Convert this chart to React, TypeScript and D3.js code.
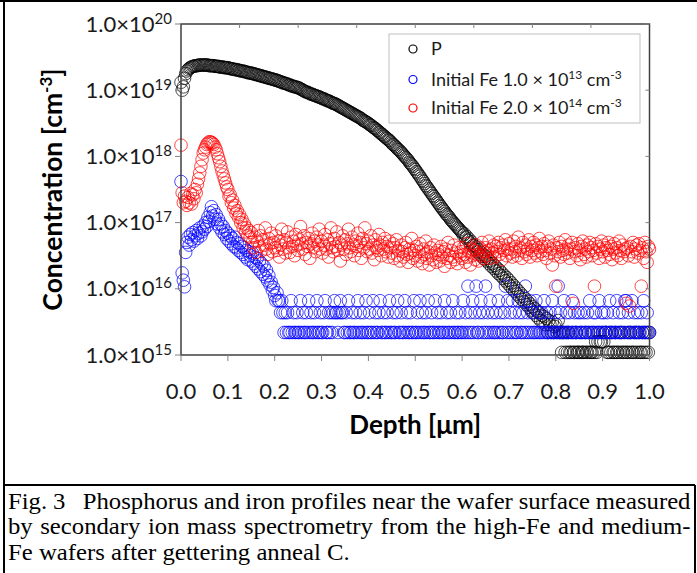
import React, { useEffect, useRef, useState } from "react";
import * as d3 from "d3";

const W = 697;
const H = 573;

// depth sampling step of the SIMS profiles (µm)
const depthStep = 0.0025;

const xTickValues = [0, 0.1, 0.2, 0.3, 0.4, 0.5, 0.6, 0.7, 0.8, 0.9, 1.0];
const xTickLabels = ["0.0", "0.1", "0.2", "0.3", "0.4", "0.5", "0.6", "0.7", "0.8", "0.9", "1.0"];
const yDecades = [15, 16, 17, 18, 19, 20];
const topTickValues = [0.125, 0.25, 0.375, 0.5, 0.625, 0.75, 0.875];

// log10 concentration [cm^-3], phosphorus
const pLog = [
  19.12, 19.00, 19.05, 19.18, 19.25, 19.29, 19.31, 19.33, 19.34, 19.35,
  19.36, 19.36, 19.37, 19.37, 19.37, 19.38, 19.38, 19.38, 19.38, 19.38,
  19.38, 19.38, 19.38, 19.38, 19.37, 19.37, 19.37, 19.37, 19.37, 19.36,
  19.36, 19.36, 19.36, 19.35, 19.35, 19.35, 19.35, 19.34, 19.34, 19.34,
  19.34, 19.33, 19.33, 19.32, 19.32, 19.32, 19.31, 19.31, 19.31, 19.30,
  19.30, 19.29, 19.29, 19.29, 19.28, 19.28, 19.27, 19.27, 19.26, 19.26,
  19.26, 19.25, 19.25, 19.24, 19.24, 19.23, 19.23, 19.22, 19.22, 19.21,
  19.21, 19.20, 19.20, 19.19, 19.19, 19.18, 19.18, 19.17, 19.17, 19.16,
  19.16, 19.15, 19.15, 19.14, 19.13, 19.13, 19.12, 19.11, 19.11, 19.10,
  19.10, 19.09, 19.08, 19.08, 19.07, 19.06, 19.06, 19.05, 19.05, 19.04,
  19.04, 19.03, 19.02, 19.01, 19.00, 18.99, 18.98, 18.97, 18.97, 18.96,
  18.95, 18.94, 18.94, 18.93, 18.92, 18.92, 18.91, 18.90, 18.90, 18.89,
  18.88, 18.87, 18.87, 18.86, 18.85, 18.84, 18.84, 18.83, 18.82, 18.81,
  18.80, 18.80, 18.79, 18.78, 18.77, 18.76, 18.75, 18.74, 18.73, 18.72,
  18.71, 18.70, 18.69, 18.68, 18.67, 18.66, 18.65, 18.64, 18.63, 18.62,
  18.61, 18.60, 18.59, 18.58, 18.57, 18.55, 18.54, 18.53, 18.52, 18.51,
  18.50, 18.48, 18.47, 18.46, 18.44, 18.43, 18.42, 18.40, 18.39, 18.37,
  18.36, 18.34, 18.33, 18.31, 18.30, 18.28, 18.27, 18.25, 18.24, 18.22,
  18.20, 18.18, 18.17, 18.15, 18.13, 18.11, 18.10, 18.08, 18.06, 18.04,
  18.02, 18.00, 17.98, 17.96, 17.94, 17.91, 17.89, 17.87, 17.85, 17.82,
  17.80, 17.77, 17.75, 17.72, 17.70, 17.67, 17.64, 17.62, 17.59, 17.56,
  17.54, 17.51, 17.49, 17.46, 17.44, 17.41, 17.39, 17.36, 17.34, 17.31,
  17.29, 17.26, 17.24, 17.21, 17.19, 17.17, 17.14, 17.12, 17.10, 17.08,
  17.05, 17.03, 17.01, 16.99, 16.97, 16.95, 16.93, 16.91, 16.89, 16.87,
  16.85, 16.81, 16.83, 16.77, 16.79, 16.73, 16.75, 16.69, 16.71, 16.65,
  16.66, 16.60, 16.63, 16.56, 16.59, 16.52, 16.55, 16.49, 16.52, 16.45,
  16.49, 16.42, 16.46, 16.38, 16.42, 16.34, 16.38, 16.31, 16.35, 16.27,
  16.31, 16.23, 16.28, 16.20, 16.24, 16.16, 16.20, 16.12, 16.17, 16.08,
  16.13, 16.04, 16.09, 16.00, 16.05, 15.96, 16.01, 15.92, 15.97, 15.88,
  15.93, 15.84, 15.89, 15.80, 15.85, 15.76, 15.81, 15.72, 15.77, 15.68,
  15.73, 15.64, 15.70, 15.60, 15.66, 15.56, 15.64, 15.52, 15.60, 15.50,
  15.58, 15.46, 15.55, 15.34, 15.52, 15.46, 15.34, 15.50, 15.34, 15.43,
  15.46, 15.34, 15.52, 15.34, 15.34, 15.04, 15.34, 15.34, 15.04, 15.34,
  15.04, 15.34, 15.04, 15.04, 15.34, 15.04, 15.04, 15.34, 15.04, 15.04,
  15.04, 15.34, 15.04, 15.04, 15.04, 15.34, 15.04, 15.04, 15.34, 15.04,
  15.04, 15.04, 15.34, 15.04, 15.20, 15.04, 15.20, 15.34, 15.20, 15.20,
  15.34, 15.20, 15.34, 15.34, 15.04, 15.04, 15.34, 15.04, 15.34, 15.04,
  15.04, 15.34, 15.04, 15.04, 15.34, 15.04, 15.34, 15.04, 15.04, 15.34,
  15.04, 15.04, 15.34, 15.04, 15.34, 15.04, 15.04, 15.34, 15.04, 15.34,
  15.04, 15.34, 15.04, 15.04, 15.34, 15.04, 15.34, 15.04, 15.34, 15.04,
  15.34,
];

// log10 concentration [cm^-3], Fe, initial 1.0e13
const feLowLog = [
  17.62, 16.24, 16.13, 16.03, 16.55, 16.70, 16.78, 16.66, 16.82, 16.74,
  16.85, 16.72, 16.80, 16.88, 16.76, 16.84, 16.92, 16.80, 16.86, 16.95,
  16.90, 17.00, 16.94, 17.08, 17.02, 17.15, 17.24, 17.10, 17.18, 17.05,
  17.12, 16.98, 17.05, 16.92, 16.98, 16.86, 16.94, 16.82, 16.88, 16.76,
  16.84, 16.72, 16.80, 16.68, 16.76, 16.64, 16.78, 16.62, 16.70, 16.58,
  16.68, 16.55, 16.64, 16.52, 16.62, 16.48, 16.58, 16.44, 16.56, 16.50,
  16.42, 16.54, 16.38, 16.48, 16.34, 16.46, 16.30, 16.42, 16.26, 16.38,
  16.22, 16.34, 16.18, 16.28, 16.12, 16.20, 16.06, 16.10, 15.98, 16.02,
  15.90, 15.82, 15.94, 15.82, 15.82, 15.64, 15.82, 15.64, 15.34, 15.64,
  15.34, 15.64, 15.34, 15.34, 15.82, 15.34, 15.64, 15.34, 15.34, 15.64,
  15.34, 15.34, 15.82, 15.34, 15.64, 15.34, 15.34, 15.64, 15.34, 15.82,
  15.34, 15.64, 15.34, 15.34, 15.64, 15.34, 15.82, 15.34, 15.34, 15.64,
  15.34, 15.34, 15.64, 15.82, 15.34, 15.34, 15.64, 15.34, 15.64, 15.34,
  15.64, 15.82, 15.64, 15.64, 15.34, 15.64, 15.82, 15.64, 15.64, 15.34,
  15.34, 15.64, 15.34, 15.82, 15.34, 15.34, 15.64, 15.34, 15.34, 15.64,
  15.34, 15.82, 15.34, 15.64, 15.34, 15.34, 15.64, 15.34, 15.82, 15.34,
  15.34, 15.64, 15.34, 15.34, 15.82, 15.34, 15.64, 15.34, 15.34, 15.64,
  15.82, 15.34, 15.34, 15.64, 15.34, 15.34, 15.64, 15.34, 15.82, 15.34,
  15.34, 15.64, 15.34, 15.34, 15.64, 15.82, 15.34, 15.34, 15.64, 15.34,
  15.34, 15.82, 15.34, 15.64, 15.34, 15.34, 15.64, 15.34, 15.34, 15.82,
  15.34, 15.34, 15.64, 15.34, 15.82, 15.34, 15.64, 15.34, 15.34, 15.64,
  15.34, 15.82, 15.34, 15.34, 15.64, 15.34, 15.34, 15.82, 15.34, 15.64,
  15.34, 15.34, 15.64, 15.34, 15.34, 15.82, 15.34, 15.64, 15.34, 15.34,
  15.64, 15.34, 15.82, 15.34, 15.34, 15.64, 15.34, 15.34, 15.64, 15.34,
  15.34, 15.82, 15.34, 15.64, 15.34, 16.04, 15.34, 15.64, 15.34, 15.82,
  15.34, 15.64, 16.04, 15.34, 15.34, 15.64, 15.82, 15.34, 15.64, 15.34,
  16.04, 15.34, 15.64, 15.34, 15.82, 15.34, 15.64, 15.34, 15.34, 15.64,
  15.34, 15.82, 15.34, 15.64, 15.34, 15.34, 15.64, 16.04, 15.34, 15.82,
  15.34, 15.64, 15.34, 15.82, 15.34, 15.64, 15.34, 15.34, 15.82, 15.64,
  15.34, 15.34, 15.64, 15.34, 16.04, 15.34, 15.64, 15.34, 15.82, 15.34,
  15.64, 15.34, 15.34, 15.82, 15.34, 15.64, 15.34, 15.34, 15.64, 15.34,
  15.82, 15.34, 15.64, 15.34, 15.34, 15.64, 15.34, 15.82, 15.34, 15.34,
  15.64, 15.34, 16.04, 15.34, 15.64, 15.34, 15.34, 15.82, 15.34, 15.64,
  15.34, 15.34, 15.64, 15.34, 15.82, 15.34, 15.64, 15.34, 15.34, 15.64,
  15.34, 15.64, 15.34, 15.34, 15.64, 15.34, 15.34, 15.64, 15.34, 15.82,
  15.34, 15.34, 15.64, 15.34, 15.64, 15.34, 15.34, 15.82, 15.34, 15.64,
  15.34, 15.64, 15.34, 15.34, 15.64, 15.34, 15.82, 15.34, 15.34, 15.64,
  15.34, 15.34, 15.82, 15.34, 15.64, 15.34, 15.34, 15.64, 15.34, 15.82,
  15.82, 15.34, 15.64, 15.34, 15.34, 15.82, 15.34, 15.64, 15.34, 15.34,
  15.64, 15.34, 15.34, 15.64, 15.34, 15.82, 15.34, 15.34, 15.64, 15.34,
  15.34,
];

// log10 concentration [cm^-3], Fe, initial 2.0e14
const feHighLog = [
  18.17, 17.45, 17.30, 17.40, 17.32, 17.26, 17.38, 17.30, 17.44, 17.28,
  17.42, 17.36, 17.50, 17.45, 17.58, 17.66, 17.75, 17.85, 17.95, 18.05,
  18.10, 18.14, 18.18, 18.20, 18.22, 18.22, 18.21, 18.20, 18.18, 18.14,
  18.10, 18.04, 17.98, 17.92, 17.85, 17.78, 17.72, 17.66, 17.60, 17.54,
  17.50, 17.40, 17.42, 17.30, 17.34, 17.22, 17.26, 17.14, 17.18, 17.08,
  17.12, 17.00, 17.05, 16.92, 16.98, 16.86, 16.92, 16.80, 16.88, 16.78,
  16.85, 16.70, 16.62, 16.78, 16.55, 16.72, 16.88, 16.64, 16.80, 16.58,
  16.74, 16.66, 16.92, 16.60, 16.52, 16.76, 16.68, 16.84, 16.56, 16.70,
  16.62, 16.80, 16.58, 16.72, 16.48, 16.66, 16.90, 16.60, 16.74, 16.54,
  16.70, 16.86, 16.62, 16.55, 16.78, 16.64, 16.72, 16.50, 16.82, 16.66,
  16.58, 16.74, 16.94, 16.68, 16.60, 16.80, 16.52, 16.70, 16.64, 16.76,
  16.46, 16.68, 16.84, 16.62, 16.72, 16.56, 16.78, 16.66, 16.90, 16.60,
  16.72, 16.54, 16.66, 16.82, 16.60, 16.74, 16.48, 16.68, 16.92, 16.62,
  16.56, 16.76, 16.64, 16.86, 16.58, 16.70, 16.42, 16.66, 16.80, 16.60,
  16.74, 16.52, 16.68, 16.90, 16.62, 16.56, 16.78, 16.66, 16.50, 16.72,
  16.64, 16.84, 16.58, 16.70, 16.46, 16.76, 16.62, 16.92, 16.68, 16.56,
  16.72, 16.60, 16.80, 16.54, 16.66, 16.44, 16.74, 16.62, 16.58, 16.82,
  16.66, 16.50, 16.70, 16.60, 16.76, 16.56, 16.64, 16.48, 16.72, 16.62,
  16.54, 16.68, 16.46, 16.62, 16.74, 16.50, 16.58, 16.42, 16.66, 16.56,
  16.48, 16.62, 16.70, 16.52, 16.40, 16.60, 16.54, 16.76, 16.46, 16.58,
  16.50, 16.64, 16.42, 16.56, 16.68, 16.48, 16.38, 16.60, 16.52, 16.72,
  16.46, 16.56, 16.36, 16.62, 16.50, 16.44, 16.66, 16.54, 16.40, 16.58,
  16.52, 16.42, 16.64, 16.48, 16.56, 16.34, 16.60, 16.46, 16.70, 16.50,
  16.40, 16.58, 16.48, 16.66, 16.44, 16.54, 16.38, 16.62, 16.50, 16.56,
  16.46, 16.62, 16.52, 16.40, 16.68, 16.48, 16.56, 16.36, 16.60, 16.50,
  16.58, 16.44, 16.66, 16.52, 16.42, 16.62, 16.50, 16.70, 16.46, 16.56,
  16.62, 16.50, 16.58, 16.72, 16.46, 16.60, 16.54, 16.66, 16.48, 16.64,
  16.56, 16.70, 16.52, 16.62, 16.44, 16.66, 16.58, 16.74, 16.50, 16.60,
  16.68, 16.54, 16.60, 16.48, 16.72, 16.56, 16.64, 16.50, 16.78, 16.58,
  16.62, 16.46, 16.70, 16.56, 16.66, 16.52, 16.60, 16.74, 16.48, 16.64,
  16.58, 16.70, 16.54, 16.66, 16.50, 16.62, 16.76, 16.56, 16.64, 16.52,
  16.68, 16.58, 16.46, 16.64, 16.72, 16.54, 16.60, 16.36, 16.66, 16.50,
  16.04, 16.62, 16.56, 16.70, 16.48, 16.64, 16.58, 16.52, 16.74, 16.60,
  16.54, 16.66, 16.46, 16.60, 16.70, 15.78, 16.56, 16.62, 16.50, 16.68,
  16.58, 16.44, 16.64, 16.72, 16.52, 16.60, 16.48, 16.66, 16.56, 16.70,
  16.62, 16.50, 16.58, 16.04, 16.68, 16.54, 16.64, 16.46, 16.60, 16.72,
  16.56, 16.66, 16.48, 16.62, 16.58, 16.70, 16.52, 16.64, 16.44, 16.60,
  16.68, 16.54, 16.62, 16.50, 16.72, 16.58, 16.46, 16.66, 16.56, 16.60,
  15.78, 16.62, 16.50, 15.74, 16.64, 16.56, 16.70, 16.48, 16.60, 16.66,
  16.54, 16.68, 16.58, 16.04, 16.62, 16.46, 16.70, 16.56, 16.40, 16.64,
  16.60,
];

const seriesNames = ["P", "Initial Fe 1.0 × 10", "Initial Fe 2.0 × 10"];
const seriesExp = ["", "13", "14"];
const seriesColors = ["#000000", "#0000ff", "#ff0000"];

const captionLines = [
  "Fig. 3\u00a0\u00a0 Phosphorus and iron profiles near the wafer surface measured",
  "by secondary ion mass spectrometry from the high-Fe and medium-",
  "Fe wafers after gettering anneal C.",
];
const captionJustify = [true, true, false];

export default function App() {
  const x = d3.scaleLinear().domain([0, 1]).range([181, 649.5]);
  const y = d3.scaleLog().domain([1e15, 1e20]).range([355, 24]);
  const [x0, x1] = x.range();
  const [yB, yT] = y.range();
  const tickFont = "Lato, 'Open Sans', sans-serif";
  const capFont = "Liberation Serif, Times New Roman, serif";
  const capSize = 22.5;
  const allSeries = [pLog, feLowLog, feHighLog];

  const measRefs = useRef<(SVGTextElement | null)[]>([]);
  const capX = 8;
  const capW = 683; // justified line width in the figure
  const capLastW = 342; // width of the last caption line in the figure
  const [capLayout, setCapLayout] = useState<{ s: number; ws: number[] }>({ s: 1.08, ws: [0, 0, 0] });

  useEffect(() => {
    let cancelled = false;
    const run = () => {
      const widths = captionLines.map((_, i) => {
        const el = measRefs.current[i];
        return el ? el.getComputedTextLength() : 0;
      });
      if (!widths[2]) return;
      const s = capLastW / widths[2];
      const ws = captionLines.map((line, i) => {
        if (!captionJustify[i]) return 0;
        const spaces = (line.match(/[ \u00a0]/g) || []).length;
        return spaces ? (capW / s - widths[i]) / spaces : 0;
      });
      if (!cancelled) setCapLayout({ s, ws });
    };
    run();
    const fonts = (document as any).fonts;
    if (fonts && fonts.ready) fonts.ready.then(run);
    const t = setTimeout(run, 200);
    return () => {
      cancelled = true;
      clearTimeout(t);
    };
  }, []);

  return (
    <div style={{ position: "fixed", left: 0, top: 0, width: W, height: H, background: "#fff" }}>
      <svg width={W} height={H} viewBox={`0 0 ${W} ${H}`} style={{ display: "block" }}>
        <rect x={0} y={0} width={W} height={H} fill="#fff" />
        {/* figure borders */}
        <line x1={0} y1={1} x2={W} y2={1} stroke="#000" strokeWidth={2} />
        <line x1={4} y1={0} x2={4} y2={H} stroke="#000" strokeWidth={2} />
        <line x1={4} y1={485} x2={695} y2={485} stroke="#000" strokeWidth={2} />
        <line x1={695} y1={485} x2={695} y2={H} stroke="#000" strokeWidth={2} />

        {/* data markers */}
        {allSeries.map((arr, si) => (
          <g key={si} fill="none" stroke={seriesColors[si]} strokeWidth={1} strokeOpacity={si === 0 ? 0.7 : 0.72}>
            {arr.map((v, i) => (
              <circle key={i} cx={x(i * depthStep)} cy={y(Math.pow(10, v))} r={6.3} />
            ))}
          </g>
        ))}

        {/* plot frame */}
        <rect x={x0} y={yT} width={x1 - x0} height={yB - yT} fill="none" stroke="#404040" strokeWidth={1.5} />
        {xTickValues.map((t) => (
          <line key={"xt" + t} x1={x(t)} x2={x(t)} y1={yB} y2={yB + 6} stroke="#808080" strokeWidth={1} />
        ))}
        {topTickValues.map((t) => (
          <line key={"tt" + t} x1={x(t)} x2={x(t)} y1={yT} y2={yT + 4} stroke="#808080" strokeWidth={1} />
        ))}
        {yDecades.map((e) => (
          <g key={"yt" + e}>
            <line x1={x0 - 6} x2={x0} y1={y(Math.pow(10, e))} y2={y(Math.pow(10, e))} stroke="#808080" strokeWidth={1} />
            <line x1={x1 - 4} x2={x1} y1={y(Math.pow(10, e))} y2={y(Math.pow(10, e))} stroke="#808080" strokeWidth={1} />
          </g>
        ))}

        {/* tick labels */}
        {xTickValues.map((t, i) => (
          <text key={"xl" + t} x={x(t)} y={399} textAnchor="middle" fontFamily={tickFont} fontSize={22} fill="#1a1a1a">
            {xTickLabels[i]}
          </text>
        ))}
        {yDecades.map((e) => (
          <text key={"yl" + e} x={172} y={y(Math.pow(10, e)) + 7.5} textAnchor="end" fontFamily={tickFont} fontSize={22} fill="#1a1a1a">
            1.0×10
            <tspan fontSize={15} dy={-8}>{e}</tspan>
          </text>
        ))}

        {/* axis titles */}
        <text x={(x0 + x1) / 2} y={434} textAnchor="middle" fontFamily={tickFont} fontWeight="bold" fontSize={26} fill="#000">
          Depth [μm]
        </text>
        <text
          transform={`translate(62, ${(yB + yT) / 2}) rotate(-90)`}
          textAnchor="middle"
          fontFamily={tickFont}
          fontWeight="bold"
          fontSize={26.5}
          fill="#000"
        >
          Concentration [cm
          <tspan fontSize={17} dy={-10}>-3</tspan>
          <tspan dy={10}>]</tspan>
        </text>

        {/* legend */}
        <rect x={389} y={34} width={251} height={89} fill="#fff" stroke="#bfbfbf" strokeWidth={1} />
        {seriesNames.map((name, i) => {
          const ly = [49, 79.5, 108][i];
          return (
            <g key={"lg" + i}>
              <circle cx={413} cy={ly} r={4} fill="none" stroke={seriesColors[i]} strokeWidth={1.2} />
              <text x={431} y={ly + 6} fontFamily={tickFont} fontSize={18} fill="#1a1a1a">
                {name}
                {seriesExp[i] && (
                  <>
                    <tspan fontSize={12} dy={-7}>{seriesExp[i]}</tspan>
                    <tspan dy={7}> cm</tspan>
                    <tspan fontSize={12} dy={-7}>-3</tspan>
                  </>
                )}
              </text>
            </g>
          );
        })}

        {/* caption: hidden copies used only to measure natural widths */}
        <g visibility="hidden">
          {captionLines.map((line, i) => (
            <text
              key={"m" + i}
              ref={(el) => {
                measRefs.current[i] = el;
              }}
              x={0}
              y={0}
              fontFamily={capFont}
              fontSize={capSize}
            >
              {line}
            </text>
          ))}
        </g>
        <g transform={`translate(${capX}, 0) scale(${capLayout.s}, 1)`}>
          {captionLines.map((line, i) => (
            <text
              key={"cap" + i}
              x={0}
              y={[509, 534.5, 560][i]}
              fontFamily={capFont}
              fontSize={capSize}
              fill="#000"
              wordSpacing={capLayout.ws[i]}
            >
              {line}
            </text>
          ))}
        </g>
      </svg>
    </div>
  );
}
